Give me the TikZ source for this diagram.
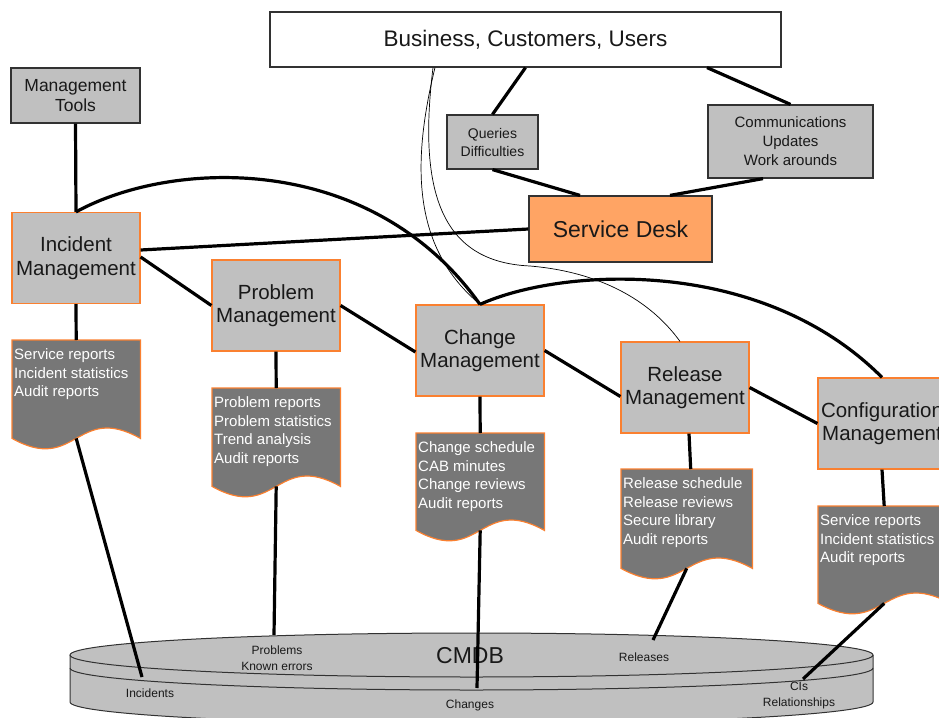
\documentclass[tikz,border=0pt]{standalone}
\usepackage{fontspec}
\setmainfont{Liberation Sans}
\usetikzlibrary{calc}
\definecolor{boxgray}{RGB}{192,192,192}
\definecolor{docgray}{RGB}{119,119,119}
\definecolor{orng}{RGB}{250,128,48}
\definecolor{sdfill}{RGB}{255,164,100}
\definecolor{edge}{RGB}{50,50,50}
\definecolor{ink}{RGB}{25,25,25}
\newcommand\myfs[2]{\fontsize{#1}{#2}\selectfont}
\tikzset{
  darkbox/.style={draw=edge, line width=1.2pt, fill=boxgray, text=ink, align=center, inner sep=0pt},
  procbox/.style={draw=orng, line width=1.2pt, fill=boxgray, text=ink, align=center, inner sep=0pt, minimum width=128, minimum height=91, font=\myfs{20.5}{23.5}},
  docarea/.style={inner sep=0pt, anchor=north west},
  docshape/.style={draw=orng, line width=1.2pt, fill=docgray},
  doctext/.style={inner sep=0pt, anchor=north west, align=left, text=white, font=\myfs{15}{18.5}},
  link/.style={line width=3.2pt, draw=black},
  thinlink/.style={line width=0.7pt, draw=black},
  cylline/.style={line width=1pt, draw=edge},
  cyltext/.style={text=ink, font=\myfs{12}{16}, align=center, inner sep=0pt},
}
\newcommand\mydoc[5]{%
  \node[docarea, minimum width=#4, minimum height=#5] (#1) at (#2,#3) {};
  \draw[docshape] (#1.north west) -- (#1.north east) -- (#1.south east)
    .. controls ($(#1.south)+(0,-36)$) and ($(#1.south)+(0,36)$) .. (#1.south west) -- cycle;
}
\begin{document}
\begin{tikzpicture}[x=1pt,y=-1pt]
\useasboundingbox (0,0) rectangle (939,717);
\clip (0,0) rectangle (939,717);

% CMDB cylinder
\fill[boxgray] (70,655) rectangle (873,702);
\fill[boxgray] (471.5,655) ellipse [x radius=401.5, y radius=22];
\fill[boxgray] (471.5,702) ellipse [x radius=401.5, y radius=22];
\draw[cylline] (471.5,655) ellipse [x radius=401.5, y radius=22];
\draw[cylline] (70,655) -- (70,702) arc[start angle=180, end angle=0, x radius=401.5, y radius=22] -- (873,655);
\draw[cylline] (70,668) arc[start angle=180, end angle=0, x radius=401.5, y radius=22];
\node[cyltext, font=\myfs{23}{26}] (cmdb) at (470,656) {CMDB};
\node[cyltext] (lblinc) at (150,693) {Incidents};
\node[cyltext] (lblprob) at (277,658) {Problems\\Known errors};
\node[cyltext] (lblrel) at (644,657) {Releases};
\node[cyltext] (lblchg) at (470,705) {Changes};
\node[cyltext] (lblci) at (799,696) {CIs\\Relationships};
\coordinate (cinc) at (142,677);
\coordinate (cprob) at (274,635);
\coordinate (cchg) at (477,688);
\coordinate (crel) at (653,640);
\coordinate (cci) at (803,679);

% top boxes
\node[darkbox, fill=white, minimum width=511, minimum height=55, font=\myfs{22.5}{26}] (biz) at (525.5,39.5) {Business, Customers, Users};
\node[darkbox, minimum width=129, minimum height=55, font=\myfs{17.5}{20}] (tools) at (75.5,95.5) {Management\\Tools};
\node[darkbox, minimum width=91, minimum height=54, font=\myfs{14}{18}] (qd) at (492.5,142) {Queries\\Difficulties};
\node[darkbox, minimum width=165, minimum height=73, font=\myfs{15}{19}] (comm) at (790.5,141.5) {Communications\\Updates\\Work arounds};
\node[darkbox, fill=sdfill, minimum width=183, minimum height=66, font=\myfs{23}{26}] (sd) at (620.5,229) {Service Desk};

% process boxes
\node[procbox] (inc) at (76,258) {Incident\\Management};
\node[procbox] (prob) at (276,305.5) {Problem\\Management};
\node[procbox] (chg) at (480,350.5) {Change\\Management};
\node[procbox] (rel) at (685,387.5) {Release\\Management};
\node[procbox] (cfg) at (882,423.5) {Configuration\\Management};

% documents
\mydoc{incdoc}{12}{340}{128}{98}
\node[doctext] (incdoct) at ([shift={(2,8.5)}]incdoc.north west) {Service reports\\Incident statistics\\Audit reports};
\mydoc{probdoc}{212}{388}{128}{98}
\node[doctext] (probdoct) at ([shift={(2,8.5)}]probdoc.north west) {Problem reports\\Problem statistics\\Trend analysis\\Audit reports};
\mydoc{chgdoc}{416}{433}{128}{97}
\node[doctext] (chgdoct) at ([shift={(2,8.5)}]chgdoc.north west) {Change schedule\\CAB minutes\\Change reviews\\Audit reports};
\mydoc{reldoc}{621}{469}{131}{99}
\node[doctext] (reldoct) at ([shift={(2,8.5)}]reldoc.north west) {Release schedule\\Release reviews\\Secure library\\Audit reports};
\mydoc{cfgdoc}{818}{506}{132}{97}
\node[doctext] (cfgdoct) at ([shift={(2,8.5)}]cfgdoc.north west) {Service reports\\Incident statistics\\Audit reports};

% thin connectors
\draw[thinlink] ([xshift=-90.5pt]biz.south) .. controls (410,170) and (415,250) .. (chg.north);
\draw[thinlink] ([xshift=-92.5pt]biz.south) .. controls (418,190) and (440,262) .. (530,266)
  .. controls (600,272) and (650,300) .. ([xshift=-5pt]rel.north);

% thick connectors
\draw[link] (tools.south) -- (inc.north);
\draw[link] (inc.north) .. controls (170,160) and (370,150) .. (chg.north);
\draw[link] (chg.north) .. controls (560,268) and (760,255) .. (cfg.north);
\draw[link] ([yshift=8pt]inc.east) -- (sd.west);
\draw[link] ([yshift=1pt]inc.east) -- (prob.west);
\draw[link] (prob.east) -- ([yshift=-1.5pt]chg.west);
\draw[link] (chg.east) -- ([yshift=-9pt]rel.west);
\draw[link] (rel.east) -- (cfg.west);
\draw[link] (biz.south) -- (qd.north);
\draw[link] ([xshift=181.5pt]biz.south) -- (comm.north);
\draw[link] (qd.south) -- ([xshift=-40.5pt]sd.north);
\draw[link] ([xshift=-27.5pt]comm.south) -- ([xshift=49.5pt]sd.north);
\draw[link] (inc.south) -- (incdoc.north);
\draw[link] (prob.south) -- (probdoc.north);
\draw[link] (chg.south) -- (chgdoc.north);
\draw[link] ([xshift=4pt]rel.south) -- ([xshift=4pt]reldoc.north);
\draw[link] (cfg.south) -- (cfgdoc.north);
\draw[link] (incdoc.south) -- (cinc);
\draw[link] (probdoc.south) -- (cprob);
\draw[link] (chgdoc.south) -- (cchg);
\draw[link] (reldoc.south) -- (crel);
\draw[link] (cfgdoc.south) -- (cci);
\end{tikzpicture}
\end{document}
